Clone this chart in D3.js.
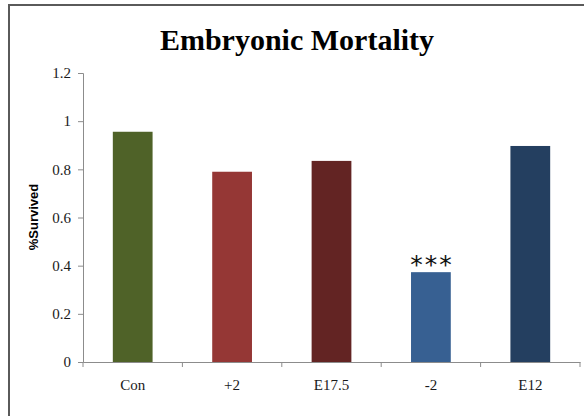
<!DOCTYPE html>
<html>
<head>
<meta charset="utf-8">
<script src="https://cdn.jsdelivr.net/npm/d3@7"></script>
<style>
  body { margin: 0; background: #fff; }
  svg { display: block; }
  .axis text { font-family: "Liberation Serif", "Times New Roman", serif; font-size: 15px; fill: #1a1a1a; }
</style>
</head>
<body>
<svg width="584" height="416"></svg>
<script>
/* data */
var groups = ["Con", "+2", "E17.5", "-2", "E12"];
var survived = [0.956, 0.79, 0.835, 0.373, 0.897];
var colors = ["#4f6228", "#953735", "#632423", "#376092", "#243f60"];
var yTicks = [0, 0.2, 0.4, 0.6, 0.8, 1, 1.2];
var marks = ["", "", "", "***", ""];

var svg = d3.select("svg");

/* chart frame */
svg.append("rect")
    .attr("x", 9).attr("y", 5)
    .attr("width", 600).attr("height", 420)
    .attr("fill", "#fff")
    .attr("stroke", "#5a5a5a")
    .attr("stroke-width", 2);

svg.append("text")
    .attr("x", 297).attr("y", 50)
    .attr("text-anchor", "middle")
    .style("font-family", "'Liberation Serif', 'Times New Roman', serif")
    .style("font-weight", "bold")
    .style("font-size", "30px")
    .attr("fill", "#000")
    .text("Embryonic Mortality");

var x = d3.scaleBand()
    .domain(groups)
    .range([83, 580])
    .paddingInner(0.6)
    .paddingOuter(0.3);

var y = d3.scaleLinear()
    .domain([0, 1.2])
    .range([362, 73]);

/* y axis */
var yAxis = svg.append("g")
    .attr("class", "axis")
    .attr("transform", "translate(83,0)")
    .call(d3.axisLeft(y).tickValues(yTicks).tickSize(5).tickPadding(7)
        .tickFormat(function(d) { return String(d); }));

/* x axis with ticks at band edges */
var xAxis = svg.append("g")
    .attr("class", "axis")
    .attr("transform", "translate(0,362)")
    .call(d3.axisBottom(x).tickSize(0).tickPadding(17));

xAxis.selectAll(".edge")
    .data(d3.range(groups.length + 1))
    .enter().append("line")
    .attr("class", "edge")
    .attr("x1", function(i) { return 83 + i * x.step(); })
    .attr("x2", function(i) { return 83 + i * x.step(); })
    .attr("y1", 0).attr("y2", 5)
    .attr("stroke", "#8c8c8c");

[yAxis, xAxis].forEach(function(g) {
    g.attr("font-family", null).attr("font-size", null);
    g.select(".domain").attr("stroke", "#8c8c8c");
    g.selectAll(".tick line").attr("stroke", "#8c8c8c");
});

/* bars */
svg.selectAll(".bar")
    .data(groups)
    .enter().append("rect")
    .attr("class", "bar")
    .attr("x", function(d) { return x(d); })
    .attr("width", x.bandwidth())
    .attr("y", function(d, i) { return y(survived[i]); })
    .attr("height", function(d, i) { return y(0) - y(survived[i]); })
    .attr("fill", function(d, i) { return colors[i]; });

/* significance marks */
svg.selectAll(".mark")
    .data(groups)
    .enter().append("text")
    .attr("class", "mark")
    .attr("x", function(d) { return x(d) + x.bandwidth() / 2 + 1; })
    .attr("y", function(d, i) { return y(survived[i]) + 1; })
    .attr("text-anchor", "middle")
    .style("font-family", "'DejaVu Sans', sans-serif")
    .style("font-size", "25px")
    .style("letter-spacing", "2px")
    .attr("fill", "#111")
    .text(function(d, i) { return marks[i]; });

/* y label */
svg.append("text")
    .attr("transform", "translate(38,217) rotate(-90)")
    .attr("text-anchor", "middle")
    .style("font-family", "'Liberation Sans', Arial, sans-serif")
    .style("font-weight", "bold")
    .style("font-size", "13px")
    .attr("fill", "#000")
    .text("%Survived");
</script>
</body>
</html>
